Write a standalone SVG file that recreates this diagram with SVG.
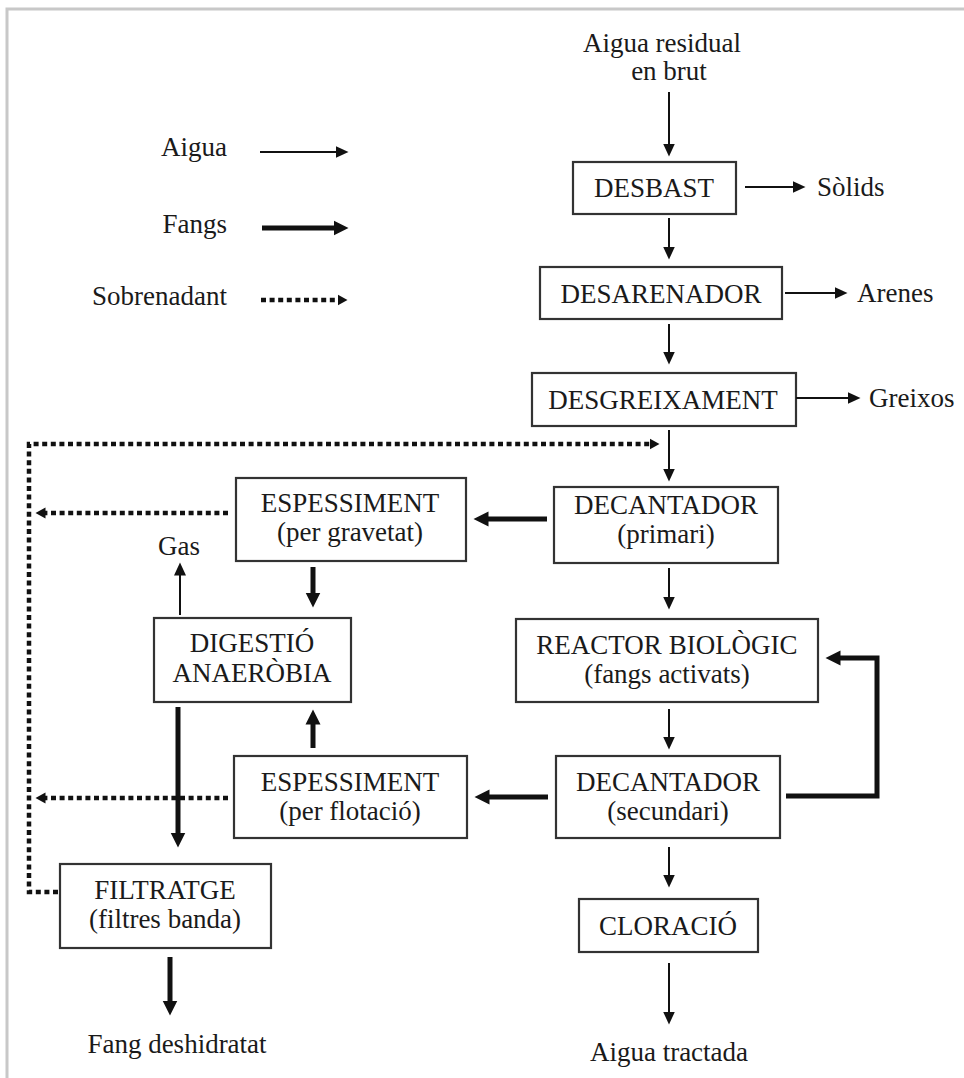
<svg xmlns="http://www.w3.org/2000/svg" width="964" height="1078" viewBox="0 0 964 1078">
<style>
text{font-family:"Liberation Serif","Times New Roman",serif;font-size:27px;fill:#1a1a1a}
.m{text-anchor:middle}
.r{text-anchor:end}
.box{fill:#fff;stroke:#333;stroke-width:2.2}
.thin{fill:none;stroke:#111;stroke-width:2}
.thick{fill:none;stroke:#111;stroke-width:5}
.dot{fill:none;stroke:#111;stroke-width:4.5;stroke-dasharray:5 3.6}
</style>
<defs>
<marker id="aThin" markerUnits="userSpaceOnUse" markerWidth="14" markerHeight="14" refX="0.5" refY="7" orient="auto"><path d="M0,1 L13,7 L0,13 z" fill="#111"/></marker>
<marker id="aThick" markerUnits="userSpaceOnUse" markerWidth="16" markerHeight="16" refX="0.5" refY="8" orient="auto"><path d="M0,0.5 L15,8 L0,15.5 z" fill="#111"/></marker>
<marker id="aDot" markerUnits="userSpaceOnUse" markerWidth="11" markerHeight="12" refX="0.5" refY="6" orient="auto"><path d="M0,0.5 L10,6 L0,11.5 z" fill="#111"/></marker>
</defs>
<rect width="964" height="1078" fill="#fff"/>
<path d="M7,1078 L7,9 L964,9" fill="none" stroke="#c8c8c8" stroke-width="3"/>

<g id="legend">
<text class="r" x="227" y="156">Aigua</text>
<text class="r" x="227" y="233">Fangs</text>
<text class="r" x="227" y="305">Sobrenadant</text>
</g>

<g id="input"><text class="m" x="662" y="52">Aigua residual<tspan x="669" dy="28">en brut</tspan></text></g>
<g id="desbast"><rect class="box" x="573" y="162" width="163" height="52"/><text class="m" x="654" y="197">DESBAST</text></g>
<g id="solids"><text x="817" y="196">Sòlids</text></g>
<g id="desarenador"><rect class="box" x="540" y="267" width="242" height="52"/><text class="m" x="661" y="303">DESARENADOR</text></g>
<g id="arenes"><text x="857" y="302">Arenes</text></g>
<g id="desgreixament"><rect class="box" x="532" y="373" width="264" height="53"/><text class="m" x="663" y="409">DESGREIXAMENT</text></g>
<g id="greixos"><text x="869" y="407">Greixos</text></g>
<g id="decantador1"><rect class="box" x="554" y="487" width="224" height="76"/><text class="m" x="666" y="514">DECANTADOR<tspan x="666" dy="29">(primari)</tspan></text></g>
<g id="reactor"><rect class="box" x="516" y="619" width="302" height="83"/><text class="m" x="667" y="654">REACTOR BIOLÒGIC<tspan x="667" dy="29">(fangs activats)</tspan></text></g>
<g id="decantador2"><rect class="box" x="556" y="756" width="224" height="82"/><text class="m" x="668" y="791">DECANTADOR<tspan x="668" dy="29">(secundari)</tspan></text></g>
<g id="cloracio"><rect class="box" x="579" y="899" width="179" height="53"/><text class="m" x="668" y="935">CLORACIÓ</text></g>
<g id="tractada"><text class="m" x="669" y="1061">Aigua tractada</text></g>
<g id="espessiment1"><rect class="box" x="236" y="478" width="230" height="83"/><text class="m" x="350" y="512">ESPESSIMENT<tspan x="350" dy="29">(per gravetat)</tspan></text></g>
<g id="gas"><text class="m" x="179" y="555">Gas</text></g>
<g id="digestio"><rect class="box" x="154" y="618" width="197" height="84"/><text class="m" x="252" y="652">DIGESTIÓ<tspan x="252" dy="30">ANAERÒBIA</tspan></text></g>
<g id="espessiment2"><rect class="box" x="234" y="756" width="233" height="82"/><text class="m" x="350" y="791">ESPESSIMENT<tspan x="350" dy="29">(per flotació)</tspan></text></g>
<g id="filtratge"><rect class="box" x="60" y="864" width="211" height="84"/><text class="m" x="165" y="899">FILTRATGE<tspan x="165" dy="29">(filtres banda)</tspan></text></g>
<g id="fang"><text class="m" x="177" y="1053">Fang deshidratat</text></g>

<g id="connectors">
<line class="thin" x1="260" y1="152" x2="336" y2="152" marker-end="url(#aThin)"/>
<line class="thick" x1="262" y1="228" x2="334" y2="228" marker-end="url(#aThick)"/>
<line class="dot" x1="261" y1="300" x2="338" y2="300" marker-end="url(#aDot)"/>

<line class="thin" x1="669" y1="92" x2="669" y2="144" marker-end="url(#aThin)"/>
<line class="thin" x1="745" y1="187" x2="793" y2="187" marker-end="url(#aThin)"/>
<line class="thin" x1="669" y1="218" x2="669" y2="247" marker-end="url(#aThin)"/>
<line class="thin" x1="785" y1="293" x2="835" y2="293" marker-end="url(#aThin)"/>
<line class="thin" x1="669" y1="324" x2="669" y2="352" marker-end="url(#aThin)"/>
<line class="thin" x1="796" y1="398" x2="848" y2="398" marker-end="url(#aThin)"/>
<line class="thin" x1="669" y1="430" x2="669" y2="469" marker-end="url(#aThin)"/>
<line class="thin" x1="669" y1="568" x2="669" y2="597" marker-end="url(#aThin)"/>
<line class="thin" x1="669" y1="709" x2="669" y2="737" marker-end="url(#aThin)"/>
<line class="thin" x1="669" y1="847" x2="669" y2="875" marker-end="url(#aThin)"/>
<line class="thin" x1="669" y1="963" x2="669" y2="1012" marker-end="url(#aThin)"/>
<line class="thin" x1="180" y1="615" x2="180" y2="575" marker-end="url(#aThin)"/>

<line class="thick" x1="547" y1="519" x2="488" y2="519" marker-end="url(#aThick)"/>
<line class="thick" x1="313" y1="567" x2="313" y2="593" marker-end="url(#aThick)"/>
<line class="thick" x1="178" y1="707" x2="178" y2="833" marker-end="url(#aThick)"/>
<line class="thick" x1="313" y1="748" x2="313" y2="724" marker-end="url(#aThick)"/>
<line class="thick" x1="548" y1="797" x2="489" y2="797" marker-end="url(#aThick)"/>
<path class="thick" d="M786,796 L877,796 L877,658 L840,658" marker-end="url(#aThick)"/>
<line class="thick" x1="170" y1="957" x2="170" y2="1001" marker-end="url(#aThick)"/>

<path class="dot" d="M58,892 L29,892 L29,444 L650,444" marker-end="url(#aDot)"/>
<line class="dot" x1="228" y1="513" x2="45" y2="513" marker-end="url(#aDot)"/>
<line class="dot" x1="228" y1="798" x2="45" y2="798" marker-end="url(#aDot)"/>
</g>
</svg>
